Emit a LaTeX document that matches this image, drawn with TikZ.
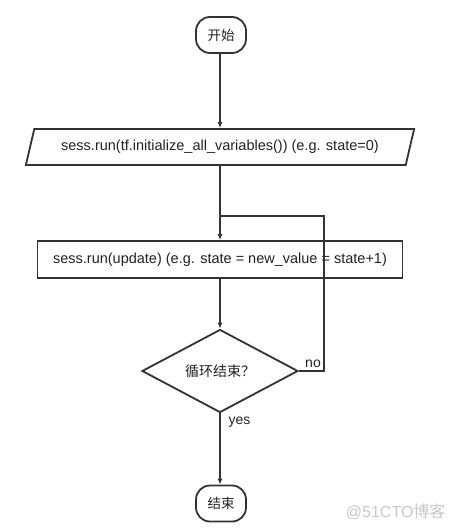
\documentclass[tikz,border=0pt]{standalone}
\usepackage{fontspec}
\setmainfont{Liberation Sans}
\newfontfamily\cjk{Noto Sans CJK SC}
\usetikzlibrary{shapes.geometric,arrows.meta}
\definecolor{ln}{HTML}{333333}
\definecolor{tx}{HTML}{222222}
\definecolor{wm}{HTML}{C8C8C8}
\begin{document}
\begin{tikzpicture}[x=1pt,y=-1pt,
  every node/.style={text=tx, font=\fontsize{14.5}{16}\selectfont},
  term/.style={draw=ln, line width=1.8pt, rectangle, rounded corners=14pt, minimum width=50pt, minimum height=36pt, inner sep=0pt, font=\cjk\fontsize{13.5}{15}\selectfont},
  para/.style={draw=ln, line width=1.8pt, trapezium, trapezium left angle=62, trapezium right angle=118, trapezium stretches=true, minimum width=389pt, minimum height=36pt, inner sep=0pt},
  proc/.style={draw=ln, line width=1.8pt, rectangle, minimum width=365pt, minimum height=37pt, inner sep=0pt},
  dec/.style={draw=ln, line width=1.8pt, diamond, minimum width=156pt, minimum height=78pt, inner sep=0pt, font=\cjk\fontsize{14}{16}\selectfont},
  conn/.style={draw=ln, line width=1.8pt},
  arr/.style={conn, -{Latex[length=6pt,width=5pt]}},
  lbl/.style={font=\fontsize{14}{16}\selectfont}
]
\useasboundingbox[fill=white] (0,0) rectangle (458,529);
\node[term] (start) at (221,35) {开始};
\node[para] (init) at (220,147) {sess.run(tf.initialize\_all\_variables()) (e.g. state=0)};
\node[proc] (upd) at (220,259.5) {sess.run(update) (e.g. state = new\_value = state+1)};
\node[dec] (chk) at (220,371) {循环结束？};
\node[term] (end) at (221,503.5) {结束};
\coordinate (lr) at (324,216);
\draw[arr] (start.south -| init.north) -- (init.north);
\draw[arr] (init.south) -- (upd.north);
\draw[conn] (chk.east) -| (lr) -- (lr -| upd.north);
\draw[arr] (upd.south) -- (chk.north);
\draw[arr] (chk.south) -- (chk.south |- end.north);
\node[lbl, anchor=south] (no) at (313,371) {no};
\node[lbl, anchor=west] (yes) at (225,422) {yes};
\node[text=wm, font=\fontsize{16}{18}\selectfont, anchor=east] (wmk) at (449,512) {@51CTO{\cjk 博客}};
\end{tikzpicture}
\end{document}
